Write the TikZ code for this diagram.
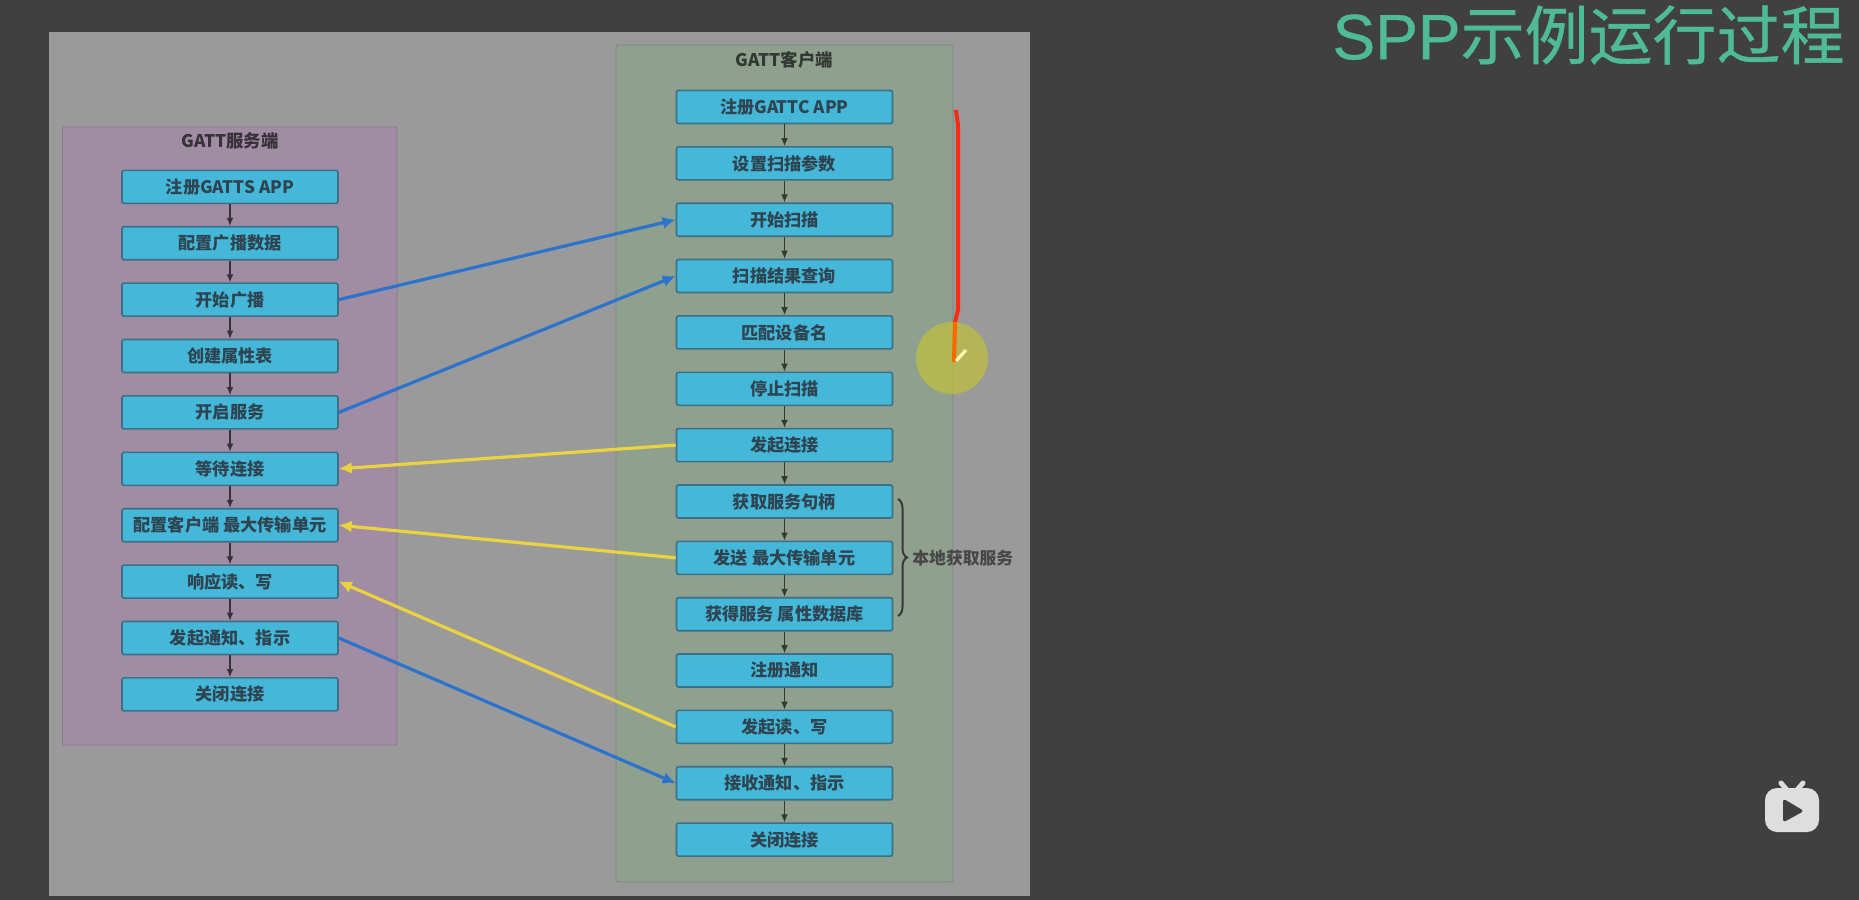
\documentclass[tikz,border=0pt]{standalone}
\usepackage{fontspec}
\usetikzlibrary{arrows.meta}
\usetikzlibrary{decorations.pathreplacing}
\newfontfamily\cjk{Noto Sans CJK SC}
\newfontfamily\cjktitle[FakeBold=0.6]{Noto Sans CJK SC}
\newfontfamily\arial[FakeBold=0.6]{Liberation Sans}
\definecolor{screen}{RGB}{64, 64, 64}
\definecolor{sheet}{RGB}{154, 154, 154}
\definecolor{srvpanel}{RGB}{160, 140, 163}
\definecolor{clipanel}{RGB}{143, 160, 143}
\definecolor{boxfill}{RGB}{69, 184, 218}
\definecolor{boxline}{RGB}{60, 112, 134}
\definecolor{boxtext}{RGB}{46, 68, 80}
\definecolor{linkblue}{RGB}{44, 115, 205}
\definecolor{linkyellow}{RGB}{235, 210, 65}
\definecolor{titlegreen}{RGB}{78, 186, 150}
\definecolor{penred}{RGB}{245, 45, 20}
\definecolor{penglow}{RGB}{190, 192, 60}
\definecolor{badge}{RGB}{222, 222, 222}
\tikzset{
  stepbox/.style={draw=boxline, line width=0.8pt, fill=boxfill, rounded corners=1pt,
    minimum width=108pt, minimum height=16.5pt, inner sep=0pt,
    text=boxtext, font=\cjk\fontsize{8.6pt}{10pt}\selectfont\bfseries},
  panelname/.style={font=\cjk\fontsize{8.7pt}{10pt}\selectfont\bfseries},
  flowarrow/.style={-{Latex[length=4pt,width=3.4pt]}, line width=0.6pt},
  linkblue/.style={-{Latex[length=6.5pt,width=6pt]}, line width=1.6pt, color=linkblue},
  linkyellow/.style={-{Latex[length=6.5pt,width=6pt]}, line width=1.6pt, color=linkyellow},
}

\begin{document}
\begin{tikzpicture}[x=0.5pt, y=-0.5pt]
    \useasboundingbox (0,0) rectangle (1859,900);
    % 背景
    \fill[screen] (0,0) rectangle (1859,900);
    \fill[sheet] (49,32) rectangle (1030,896);
    \draw[srvpanel!85!black, fill=srvpanel, rounded corners=1pt] (62.5,127) rectangle (397,745);
    \draw[clipanel!85!black, fill=clipanel, rounded corners=1pt] (616,45) rectangle (953,882);
    % タイトル
    \node[text=titlegreen, inner sep=0pt, anchor=east] (title) at (1845,35)
        {\fontsize{32pt}{36pt}\selectfont{\arial SPP}{\cjktitle 示例运行过程}};
    \node[panelname, text=black!65!srvpanel] (srvname) at (230,141) {GATT服务端};
    \node[panelname, text=black!65!clipanel] (cliname) at (784.5,60) {GATT客户端};
    % GATT 服务端
    \node[stepbox] (srvreg) at (230,186.8) {注册GATTS APP};
    \node[stepbox] (srvdata) at (230,243.2) {配置广播数据};
    \node[stepbox] (srvadv) at (230,299.6) {开始广播};
    \node[stepbox] (srvtable) at (230,356) {创建属性表};
    \node[stepbox] (srvstart) at (230,412.4) {开启服务};
    \node[stepbox] (srvwait) at (230,468.8) {等待连接};
    \node[stepbox] (srvmtu) at (230,525.2) {配置客户端 最大传输单元};
    \node[stepbox] (srvrw) at (230,581.6) {响应读、写};
    \node[stepbox] (srvnotify) at (230,638) {发起通知、指示};
    \node[stepbox] (srvclose) at (230,694.4) {关闭连接};
    % GATT 客户端
    \node[stepbox] (clireg) at (784.5,107) {注册GATTC APP};
    \node[stepbox] (cliparam) at (784.5,163.4) {设置扫描参数};
    \node[stepbox] (cliscan) at (784.5,219.7) {开始扫描};
    \node[stepbox] (cliresult) at (784.5,276) {扫描结果查询};
    \node[stepbox] (climatch) at (784.5,332.4) {匹配设备名};
    \node[stepbox] (clistop) at (784.5,388.8) {停止扫描};
    \node[stepbox] (cliconn) at (784.5,445.1) {发起连接};
    \node[stepbox] (clihandle) at (784.5,501.5) {获取服务句柄};
    \node[stepbox] (climtu) at (784.5,557.8) {发送 最大传输单元};
    \node[stepbox] (clidb) at (784.5,614.2) {获得服务 属性数据库};
    \node[stepbox] (clireq) at (784.5,670.5) {注册通知};
    \node[stepbox] (clirw) at (784.5,726.9) {发起读、写};
    \node[stepbox] (clirecv) at (784.5,783.2) {接收通知、指示};
    \node[stepbox] (cliclose) at (784.5,839.6) {关闭连接};
    % 服务端の流れ
    \draw[flowarrow, color=black!65!srvpanel] (srvreg) -- (srvdata);
    \draw[flowarrow, color=black!65!srvpanel] (srvdata) -- (srvadv);
    \draw[flowarrow, color=black!65!srvpanel] (srvadv) -- (srvtable);
    \draw[flowarrow, color=black!65!srvpanel] (srvtable) -- (srvstart);
    \draw[flowarrow, color=black!65!srvpanel] (srvstart) -- (srvwait);
    \draw[flowarrow, color=black!65!srvpanel] (srvwait) -- (srvmtu);
    \draw[flowarrow, color=black!65!srvpanel] (srvmtu) -- (srvrw);
    \draw[flowarrow, color=black!65!srvpanel] (srvrw) -- (srvnotify);
    \draw[flowarrow, color=black!65!srvpanel] (srvnotify) -- (srvclose);
    % 客户端の流れ
    \draw[flowarrow, color=black!65!clipanel] (clireg) -- (cliparam);
    \draw[flowarrow, color=black!65!clipanel] (cliparam) -- (cliscan);
    \draw[flowarrow, color=black!65!clipanel] (cliscan) -- (cliresult);
    \draw[flowarrow, color=black!65!clipanel] (cliresult) -- (climatch);
    \draw[flowarrow, color=black!65!clipanel] (climatch) -- (clistop);
    \draw[flowarrow, color=black!65!clipanel] (clistop) -- (cliconn);
    \draw[flowarrow, color=black!65!clipanel] (cliconn) -- (clihandle);
    \draw[flowarrow, color=black!65!clipanel] (clihandle) -- (climtu);
    \draw[flowarrow, color=black!65!clipanel] (climtu) -- (clidb);
    \draw[flowarrow, color=black!65!clipanel] (clidb) -- (clireq);
    \draw[flowarrow, color=black!65!clipanel] (clireq) -- (clirw);
    \draw[flowarrow, color=black!65!clipanel] (clirw) -- (clirecv);
    \draw[flowarrow, color=black!65!clipanel] (clirecv) -- (cliclose);
    % 両者の間
    \draw[linkblue] (srvadv.east) -- (cliscan.west);
    \draw[linkblue] (srvstart.east) -- (cliresult.west);
    \draw[linkyellow] (cliconn.west) -- (srvwait.east);
    \draw[linkyellow] (climtu.west) -- (srvmtu.east);
    \draw[linkyellow] (clirw.west) -- (srvrw.east);
    \draw[linkblue] (srvnotify.east) -- (clirecv.west);
    % 本地获取服务
    \coordinate (bracetop) at (898,499);
    \coordinate (bracebot) at (898,616);
    \draw[black!78, line width=1pt, decorate, decoration={brace, amplitude=4.5pt, aspect=0.5}] (bracetop) -- (bracebot);
    \node[text=black!72, inner sep=0pt, anchor=west, font=\cjk\fontsize{8.4pt}{10pt}\selectfont\bfseries] (bracename) at (912,558) {本地获取服务};
    % ペンの跡
    \fill[penglow, opacity=0.72] (952,358) circle[radius=36];
    \draw[penred, line width=2pt, line join=round] (956,110) -- (958,125) -- (958,310) -- (955,322);
    \draw[orange!80!red, line width=2pt] (955,322) -- (954,362);
    \draw[yellow!30, line width=1.6pt] (956,361) -- (966,350);
    % 右下のマーク
    \fill[badge, rounded corners=6pt] (1765,788) rectangle (1819,832);
    \draw[badge, line width=2.5pt, line cap=round] (1781,783) -- (1787,790);
    \draw[badge, line width=2.5pt, line cap=round] (1803,783) -- (1797,790);
    \fill[screen, rounded corners=1.5pt] (1783,798.5) -- (1804,811) -- (1783,822.5) -- cycle;
\end{tikzpicture}
\end{document}
